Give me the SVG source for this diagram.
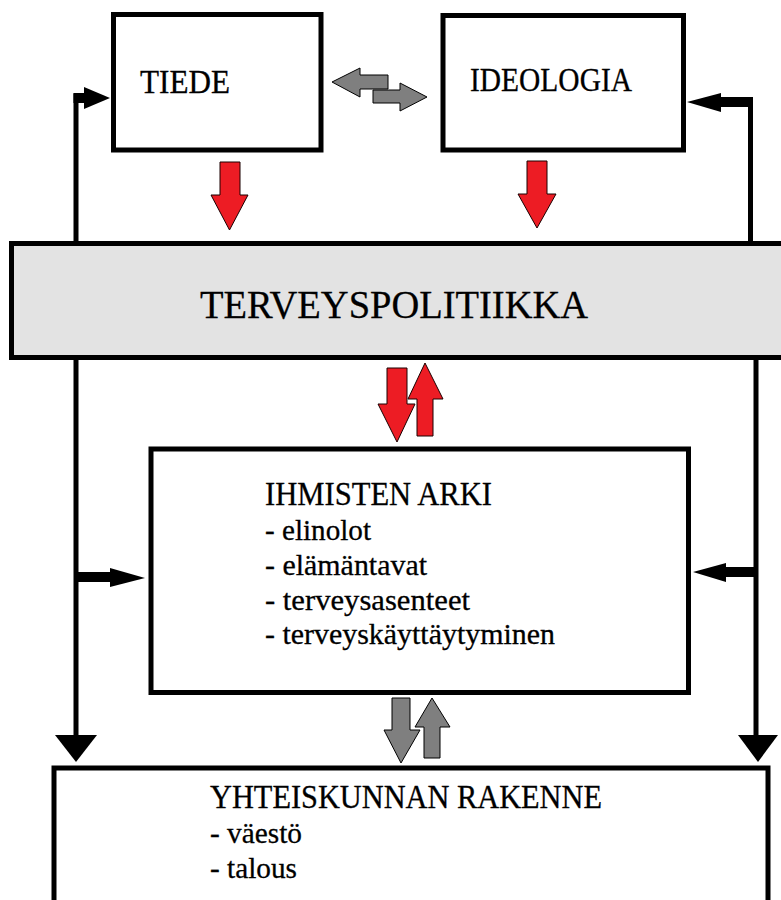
<svg xmlns="http://www.w3.org/2000/svg" width="781" height="900" viewBox="0 0 781 900">
<style>
.box{fill:#fff;stroke:#000;stroke-width:5}
.panel{fill:#e3e3e3;stroke:#000;stroke-width:5}
.t{font-family:"Liberation Serif","Times New Roman",serif;font-size:30px;fill:#000;stroke:#000;stroke-width:0.3}
.h{font-size:33px}
.big{font-size:41px}
.line{fill:none;stroke:#000;stroke-width:5}
.shaft{fill:none;stroke:#000;stroke-width:10}
.head{fill:#000}
.red{fill:#ed1c24;stroke:#1a0000;stroke-width:1}
.gray{fill:#7f7f7f;stroke:#000;stroke-width:1}
</style>
<rect width="781" height="900" fill="#fff"/>
<g id="connectors">
  <path class="line" d="M76,736 V93.5"/>
  <path class="shaft" d="M73.5,98 H86"/>
  <polygon class="head" points="84,87 110,98 84,109"/>
  <polygon class="head" points="55,735 97,735 76,762"/>
  <path class="shaft" d="M76,577 H111"/>
  <polygon class="head" points="110,568 145,578 110,587"/>
  <path class="line" d="M750.5,243 V99.5"/>
  <path class="shaft" d="M753,102 H719"/>
  <polygon class="head" points="721,93 687,102 721,112"/>
  <path class="line" d="M756,357 V736"/>
  <path class="shaft" d="M758,572 H724"/>
  <polygon class="head" points="726,563 693,572 726,582"/>
  <polygon class="head" points="738,735 778,735 758,762"/>
  <polygon class="gray" points="332,82 360,68 360,75 388,75 388,89 360,89 360,97"/>
  <polygon class="gray" points="373,90 400,90 400,83 427,97 400,111 400,103 373,103"/>
  <polygon class="red" points="220,162 240,162 240,195 248,195 229.5,230 211,195 220,195"/>
  <polygon class="red" points="527,161 547,161 547,194 556,194 537,228 518,194 527,194"/>
  <polygon class="red" points="387,368 407,368 407,404 415,404 397,442 378,404 387,404"/>
  <polygon class="red" points="417,436 433,436 433,399 443,399 425,363 408,399 417,399"/>
  <polygon class="gray" points="392,698 410,698 410,730 420,730 401,763 384,730 392,730"/>
  <polygon class="gray" points="424,758 440,758 440,727 450,727 432,698 415,727 424,727"/>
</g>
<g id="tiede">
  <rect class="box" x="113.5" y="14.5" width="207.5" height="135.5"/>
  <text class="t h" x="140" y="93" textLength="90" lengthAdjust="spacingAndGlyphs">TIEDE</text>
</g>
<g id="ideologia">
  <rect class="box" x="443" y="15.5" width="240.5" height="134.5"/>
  <text class="t h" x="470" y="91" textLength="162" lengthAdjust="spacingAndGlyphs">IDEOLOGIA</text>
</g>
<g id="terveyspolitiikka">
  <rect class="panel" x="11.5" y="243.5" width="800" height="114"/>
  <text class="t big" x="200" y="318" textLength="388" lengthAdjust="spacingAndGlyphs">TERVEYSPOLITIIKKA</text>
</g>
<g id="ihmisten-arki">
  <rect class="box" x="151" y="449" width="537.5" height="243.5"/>
  <text class="t h" x="265" y="505" textLength="227" lengthAdjust="spacingAndGlyphs">IHMISTEN ARKI</text>
  <text class="t" x="265" y="540" textLength="106" lengthAdjust="spacingAndGlyphs">- elinolot</text>
  <text class="t" x="265" y="575" textLength="162" lengthAdjust="spacingAndGlyphs">- elämäntavat</text>
  <text class="t" x="265" y="610" textLength="205" lengthAdjust="spacingAndGlyphs">- terveysasenteet</text>
  <text class="t" x="265" y="644" textLength="290" lengthAdjust="spacingAndGlyphs">- terveyskäyttäytyminen</text>
</g>
<g id="yhteiskunnan-rakenne">
  <rect class="box" x="54" y="768" width="714" height="200"/>
  <text class="t h" x="210" y="808" textLength="392" lengthAdjust="spacingAndGlyphs">YHTEISKUNNAN RAKENNE</text>
  <text class="t" x="210" y="843" textLength="92" lengthAdjust="spacingAndGlyphs">- väestö</text>
  <text class="t" x="210" y="878" textLength="87" lengthAdjust="spacingAndGlyphs">- talous</text>
</g>
</svg>
